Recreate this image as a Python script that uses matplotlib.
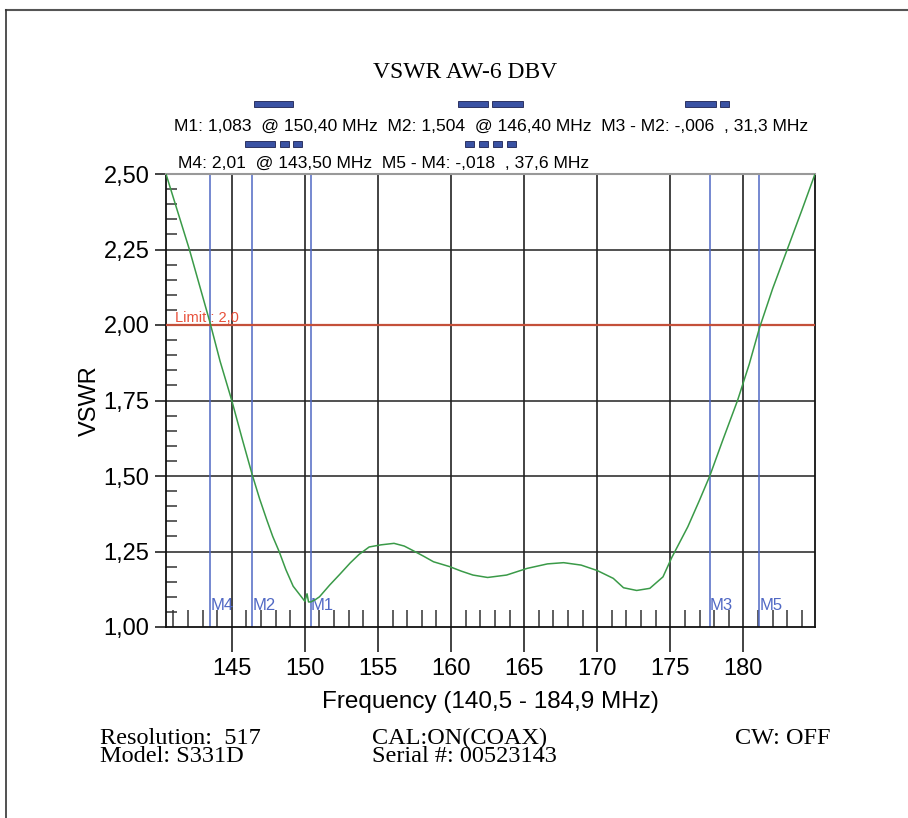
import numpy as np
import matplotlib
matplotlib.use("Agg")
import matplotlib.pyplot as plt
from matplotlib.patches import Rectangle
from matplotlib.lines import Line2D
from matplotlib.ticker import FuncFormatter, MultipleLocator

# VSWR trace
freq = [140.5, 141.3, 142.1, 142.8, 143.5, 144.2, 145.0, 145.7, 146.4, 146.9,
        147.4, 147.8, 148.24, 148.7, 149.2, 149.6, 150.0, 150.15, 150.25, 150.4,
        150.7, 151.0, 151.7, 152.4, 153.1, 153.7, 154.4, 155.2, 156.1, 156.8,
        157.4, 158.1, 158.8, 159.9, 160.7, 161.5, 162.5, 163.8, 165.2, 166.6,
        167.7, 168.9, 170.0, 171.1, 171.8, 172.7, 173.6, 174.5, 175.1, 176.2,
        177.0, 177.7, 178.6, 179.6, 180.4, 181.1, 182.0, 183.0, 184.0, 184.9]
vswr = [2.50, 2.375, 2.25, 2.13, 2.01, 1.88, 1.75, 1.625, 1.504, 1.425,
        1.354, 1.30, 1.25, 1.19, 1.135, 1.11, 1.085, 1.11, 1.083, 1.083,
        1.09, 1.10, 1.139, 1.175, 1.212, 1.24, 1.265, 1.272, 1.277, 1.268,
        1.253, 1.235, 1.216, 1.200, 1.185, 1.172, 1.164, 1.172, 1.194, 1.209,
        1.213, 1.205, 1.187, 1.161, 1.130, 1.121, 1.128, 1.166, 1.23, 1.332,
        1.42, 1.50, 1.62, 1.75, 1.87, 1.99, 2.12, 2.25, 2.38, 2.50]

marker_names = ["M4", "M2", "M1", "M3", "M5"]
marker_freqs = [143.5, 146.4, 150.4, 177.7, 181.1]
limit = 2.0

title = "VSWR AW-6 DBV"
marker_line1 = "M1: 1,083  @ 150,40 MHz  M2: 1,504  @ 146,40 MHz  M3 - M2: -,006  , 31,3 MHz"
marker_line2 = "M4: 2,01  @ 143,50 MHz  M5 - M4: -,018  , 37,6 MHz"

W, H = 908, 818
fig = plt.figure(figsize=(W / 100, H / 100), dpi=100)

SANS = "Liberation Sans"
SERIF = "Liberation Serif"


def fx(x):
    return x / W


def fy(y):
    return 1 - y / H


ax = fig.add_axes([fx(166), fy(627), fx(815) - fx(166), fy(174) - fy(627)])
ax.set_xlim(140.5, 184.9)
ax.set_ylim(1.0, 2.5)

# grid
for v in [1.25, 1.5, 1.75, 2.0, 2.25]:
    ax.axhline(v, color="#333333", lw=1.2, zorder=1)
for f in range(145, 185, 5):
    ax.axvline(f, color="#222222", lw=1.2, zorder=1)

# markers
for name, f in zip(marker_names, marker_freqs):
    ax.axvline(f, color="#5068c4", lw=1.1, zorder=2)
    ax.text(f + 0.02, 1.07, name, color="#5068c4", fontsize=12, family=SANS,
            va="center", ha="left", zorder=3)

# limit line
ax.axhline(limit, color="#c4503a", lw=1.6, zorder=3)
ax.text(141.1, 2.0, "Limit : 2,0", color="#e8503a", fontsize=10.5, family=SANS,
        va="bottom", ha="left", zorder=4)

ax.plot(freq, vswr, color="#3a9a48", lw=1.1, zorder=5)

# ticks
ax.xaxis.set_major_locator(MultipleLocator(5))
ax.xaxis.set_minor_locator(MultipleLocator(1))
ax.yaxis.set_major_locator(MultipleLocator(0.25))
ax.yaxis.set_minor_locator(MultipleLocator(0.05))
ax.xaxis.set_major_formatter(FuncFormatter(lambda v, p: f"{v:.0f}"))
ax.yaxis.set_major_formatter(FuncFormatter(lambda v, p: f"{v:.2f}".replace(".", ",")))
ax.tick_params(axis="x", which="major", direction="out", length=18, width=1.2,
               color="#222222", labelsize=17, pad=4)
ax.tick_params(axis="x", which="minor", direction="in", length=12, width=1.1,
               color="#333333")
ax.tick_params(axis="y", which="major", direction="out", length=8, width=1.2,
               color="#222222", labelsize=17, pad=4)
ax.tick_params(axis="y", which="minor", direction="in", length=8, width=1.1,
               color="#333333")
for lab in ax.get_xticklabels() + ax.get_yticklabels():
    lab.set_family(SANS)

for side in ["left", "bottom", "right"]:
    ax.spines[side].set_color("#111111")
    ax.spines[side].set_linewidth(1.3)
ax.spines["top"].set_color("#999999")
ax.spines["top"].set_linewidth(1.5)

ax.set_xlabel("Frequency (140,5 - 184,9 MHz)", fontsize=17.5, family=SANS, labelpad=8)
ax.set_ylabel("VSWR", fontsize=17, family=SANS, labelpad=2)

# header texts
fig.text(fx(465), fy(72), title, fontsize=17, family=SERIF, ha="center", va="center")
fig.text(fx(174), fy(126), marker_line1, fontsize=12.6, family=SANS, ha="left", va="center")
fig.text(fx(178), fy(163), marker_line2, fontsize=12.6, family=SANS, ha="left", va="center")

# marker indicator blocks
blocks = [(254, 101, 39), (458, 101, 30), (492, 101, 31), (685, 101, 31), (720, 101, 9),
          (245, 141, 30), (280, 141, 9), (293, 141, 9),
          (465, 141, 9), (479, 141, 9), (493, 141, 9), (507, 141, 9)]
for x0, y0, w in blocks:
    fig.patches.append(Rectangle((fx(x0), fy(y0 + 6)), w / W, 6 / H,
                                 transform=fig.transFigure, facecolor="#3a52a3",
                                 edgecolor="#1c2050", lw=0.6))

# footer
fig.text(fx(100), fy(738), "Resolution:  517", fontsize=17.5, family=SERIF, va="center")
fig.text(fx(100), fy(757), "Model: S331D", fontsize=17.5, family=SERIF, va="center")
fig.text(fx(372), fy(738), "CAL:ON(COAX)", fontsize=17.5, family=SERIF, va="center")
fig.text(fx(372), fy(757), "Serial #: 00523143", fontsize=17.5, family=SERIF, va="center")
fig.text(fx(735), fy(738), "CW: OFF", fontsize=17.5, family=SERIF, va="center")

# page frame
fig.lines.append(Line2D([fx(6), 1], [fy(10), fy(10)], transform=fig.transFigure,
                        color="#555555", lw=1.5))
fig.lines.append(Line2D([fx(6), fx(6)], [fy(10), 0], transform=fig.transFigure,
                        color="#333333", lw=1.2))

fig.savefig("out.png", dpi=100)
